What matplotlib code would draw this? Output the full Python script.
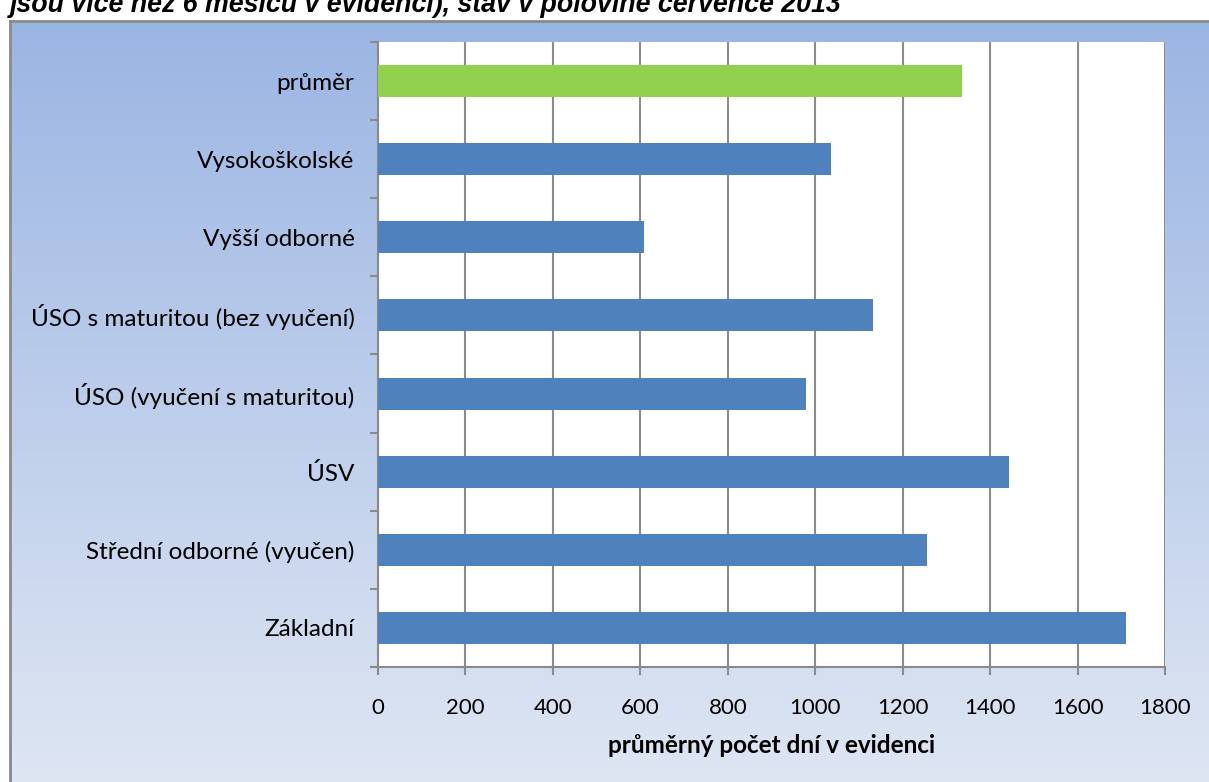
import numpy as np
import matplotlib
matplotlib.use("Agg")
from matplotlib import pyplot as plt

# data (bottom -> top)
categories = ["Základní", "Střední odborné (vyučen)", "ÚSV", "ÚSO (vyučení s maturitou)",
              "ÚSO s maturitou (bez vyučení)", "Vyšší odborné", "Vysokoškolské", "průměr"]
values = [1711, 1255, 1443, 980, 1133, 609, 1037, 1335]
bar_colors = ["#4F81BD"] * 7 + ["#92D050"]
xticks = [0, 200, 400, 600, 800, 1000, 1200, 1400, 1600, 1800]

title = "jsou více než 6 měsíců v evidenci), stav v polovině července 2013"
xlabel = "průměrný počet dní v evidenci"

W, H = 1209, 782
fig = plt.figure(figsize=(W / 100, H / 100), dpi=100)
fig.patch.set_facecolor("white")

# gradient chart background
bg = fig.add_axes([10 / W, 0, 1 - 10 / W, 1 - 21 / H])
grad = np.linspace(0, 1, 256).reshape(-1, 1)
top = np.array([0x9B, 0xB5, 0xE3]) / 255
bot = np.array([0xDE, 0xE6, 0xF3]) / 255
img = top + (bot - top) * grad[:, :, None]
bg.imshow(img, aspect="auto", extent=[0, 1, 0, 1])
bg.set_xlim(0, 1)
bg.set_ylim(0, 1)
bg.set_xticks([])
bg.set_yticks([])
for s in ["right", "bottom"]:
    bg.spines[s].set_visible(False)
for s in ["left", "top"]:
    bg.spines[s].set_color("#8a8a8a")
    bg.spines[s].set_linewidth(2)

# title (cut at top as in the source)
fig.text(10 / W, 1 - 12 / H, title, fontsize=19.3, fontweight="bold", style="italic",
         family="Liberation Sans", ha="left", va="baseline")

ax = fig.add_axes([378 / W, 1 - 667 / H, 787 / W, 625 / H])
ax.set_facecolor("white")
y = np.arange(len(categories))
ax.barh(y, values, height=0.41, color=bar_colors, zorder=3)
ax.set_xlim(0, 1800)
ax.set_ylim(-0.5, len(categories) - 0.5)
ax.set_xticks(xticks)
ax.set_xticklabels([str(t) for t in xticks], family="Lato", fontsize=16)
ax.set_yticks(y)
ax.set_yticklabels(categories, family="Lato", fontsize=17.5)
ax.set_yticks(np.arange(-0.5, len(categories), 1), minor=True)
ax.tick_params(axis="y", which="major", length=0, pad=17)
ax.tick_params(axis="y", which="minor", length=6, width=1.5, color="#8a8a8a")
ax.tick_params(axis="x", length=6, width=1.5, color="#8a8a8a", pad=16)
ax.grid(axis="x", color="#8c8c8c", linewidth=1.5, zorder=1)
for s in ["top", "right"]:
    ax.spines[s].set_visible(False)
for s in ["left", "bottom"]:
    ax.spines[s].set_color("#8a8a8a")
    ax.spines[s].set_linewidth(1.5)
ax.set_xlabel(xlabel, family="Lato", fontsize=17.5, fontweight="bold", labelpad=12)

fig.savefig("out.png", dpi=100)
